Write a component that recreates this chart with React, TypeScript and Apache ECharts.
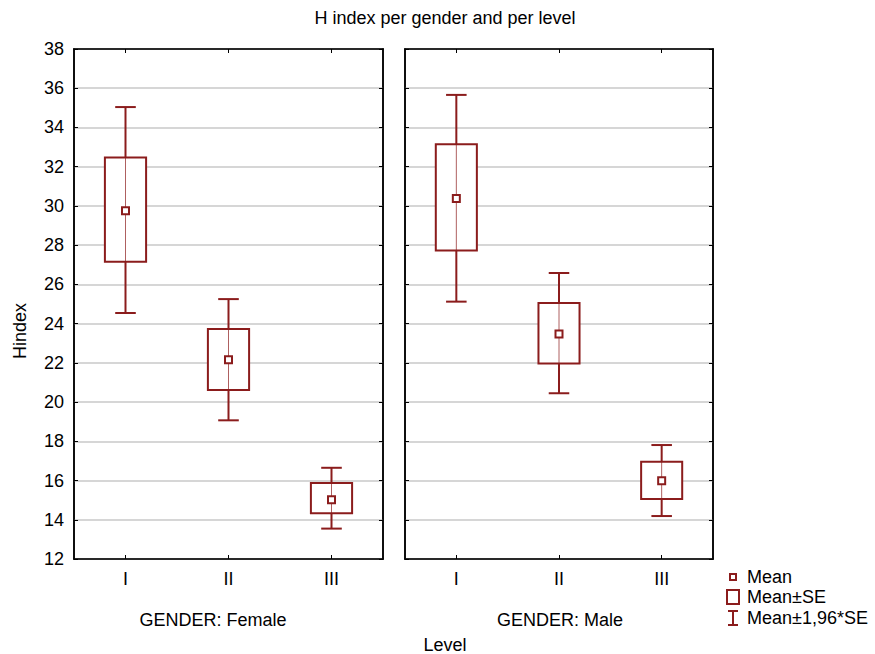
import React, { useEffect, useRef } from "react";
import * as echarts from "echarts";

const categories = ["I", "II", "III"];
const yTicksMin = 12;
const yTicksMax = 38;
const yTickStep = 2;

const femaleMean = [29.75, 22.16, 15.02];
const femaleSeLow = [27.15, 20.61, 14.33];
const femaleSeHigh = [32.47, 23.72, 15.87];
const femaleCiLow = [24.54, 19.07, 13.55];
const femaleCiHigh = [35.04, 25.25, 16.65];

const maleMean = [30.38, 23.47, 15.99];
const maleSeLow = [27.73, 21.97, 15.06];
const maleSeHigh = [33.14, 25.05, 16.96];
const maleCiLow = [25.12, 20.45, 14.19];
const maleCiHigh = [35.66, 26.58, 17.81];

const titleText = "H index per gender and per level";
const yAxisTitle = "Hindex";
const xAxisTitle = "Level";
const panelTitles = ["GENDER: Female", "GENDER: Male"];
const legendLabels = ["Mean", "Mean±SE", "Mean±1,96*SE"];

const RED = "#8b1c1c";
const FONT = "Liberation Sans, Arial, sans-serif";
const FS = 18;

function buildRows(mean: number[], seL: number[], seH: number[], ciL: number[], ciH: number[]) {
  return categories.map((_, i) => [i, mean[i], seL[i], seH[i], ciL[i], ciH[i]]);
}

function renderItem(params: any, api: any) {
  const idx = api.value(0);
  const pMean = api.coord([idx, api.value(1)]);
  const pSeL = api.coord([idx, api.value(2)]);
  const pSeH = api.coord([idx, api.value(3)]);
  const pCiL = api.coord([idx, api.value(4)]);
  const pCiH = api.coord([idx, api.value(5)]);
  const band = api.size([1, 0])[0];
  const boxW = band * 0.4;
  const capW = band * 0.2;
  const cx = pMean[0];
  const ms = 7;
  return {
    type: "group",
    children: [
      {
        type: "rect",
        shape: { x: cx - boxW / 2, y: pSeH[1], width: boxW, height: pSeL[1] - pSeH[1] },
        style: { fill: "#ffffff", stroke: RED, lineWidth: 2 },
      },
      {
        type: "line",
        shape: { x1: cx, y1: pSeH[1], x2: cx, y2: pSeL[1] },
        style: { stroke: RED, lineWidth: 1, opacity: 0.7 },
      },
      {
        type: "line",
        shape: { x1: cx, y1: pCiH[1], x2: cx, y2: pSeH[1] },
        style: { stroke: RED, lineWidth: 2 },
      },
      {
        type: "line",
        shape: { x1: cx, y1: pSeL[1], x2: cx, y2: pCiL[1] },
        style: { stroke: RED, lineWidth: 2 },
      },
      {
        type: "line",
        shape: { x1: cx - capW / 2, y1: pCiH[1], x2: cx + capW / 2, y2: pCiH[1] },
        style: { stroke: RED, lineWidth: 2 },
      },
      {
        type: "line",
        shape: { x1: cx - capW / 2, y1: pCiL[1], x2: cx + capW / 2, y2: pCiL[1] },
        style: { stroke: RED, lineWidth: 2 },
      },
      {
        type: "rect",
        shape: { x: cx - ms / 2, y: pMean[1] - ms / 2, width: ms, height: ms },
        style: { fill: "#ffffff", stroke: RED, lineWidth: 2 },
      },
    ],
  };
}

export default function App() {
  const ref = useRef<HTMLDivElement>(null);

  useEffect(() => {
    document.body.style.margin = "0";
    if (!ref.current) return;
    const chart = echarts.init(ref.current, null, { renderer: "svg" });

    const grids = [
      { left: 74, right: 875 - 383, top: 49, bottom: 654 - 559, show: true, borderColor: "#000", borderWidth: 1.5 },
      { left: 405, right: 875 - 713, top: 49, bottom: 654 - 559, show: true, borderColor: "#000", borderWidth: 1.5 },
    ];

    const xAxes: any[] = [];
    const yAxes: any[] = [];
    [0, 1].forEach((g) => {
      xAxes.push({
        type: "category",
        gridIndex: g,
        position: "bottom",
        data: categories,
        boundaryGap: true,
        axisLine: { show: true, lineStyle: { color: "#000", width: 1.5 } },
        axisTick: { show: true, inside: true, alignWithLabel: true, length: 4, lineStyle: { color: "#000" } },
        axisLabel: { show: true, color: "#000", fontSize: FS, fontFamily: FONT, margin: 11 },
        splitLine: { show: false },
      });
      xAxes.push({
        type: "category",
        gridIndex: g,
        position: "top",
        data: categories,
        boundaryGap: true,
        axisLine: { show: true, lineStyle: { color: "#000", width: 1.5 } },
        axisTick: { show: true, inside: true, alignWithLabel: true, length: 4, lineStyle: { color: "#000" } },
        axisLabel: { show: false },
        splitLine: { show: false },
      });
      yAxes.push({
        type: "value",
        gridIndex: g,
        position: "left",
        min: yTicksMin,
        max: yTicksMax,
        interval: yTickStep,
        axisLine: { show: true, lineStyle: { color: "#000", width: 1.5 } },
        axisTick: { show: true, inside: true, length: 4, lineStyle: { color: "#000" } },
        axisLabel: { show: g === 0, color: "#000", fontSize: FS, fontFamily: FONT, margin: 10 },
        splitLine: { show: true, lineStyle: { color: "#c8c8c8", width: 1.5 } },
      });
      yAxes.push({
        type: "value",
        gridIndex: g,
        position: "right",
        min: yTicksMin,
        max: yTicksMax,
        interval: yTickStep,
        axisLine: { show: true, lineStyle: { color: "#000", width: 1.5 } },
        axisTick: { show: true, inside: true, length: 4, lineStyle: { color: "#000" } },
        axisLabel: { show: false },
        splitLine: { show: false },
      });
    });

    const legendX = 733;
    const legendY = [577, 597, 618];

    chart.setOption({
      animation: false,
      backgroundColor: "#ffffff",
      textStyle: { fontFamily: FONT },
      grid: grids,
      xAxis: xAxes,
      yAxis: yAxes,
      series: [
        {
          type: "custom",
          xAxisIndex: 0,
          yAxisIndex: 0,
          renderItem,
          encode: { x: 0, y: [1, 2, 3, 4, 5] },
          data: buildRows(femaleMean, femaleSeLow, femaleSeHigh, femaleCiLow, femaleCiHigh),
          z: 5,
        },
        {
          type: "custom",
          xAxisIndex: 2,
          yAxisIndex: 2,
          renderItem,
          encode: { x: 0, y: [1, 2, 3, 4, 5] },
          data: buildRows(maleMean, maleSeLow, maleSeHigh, maleCiLow, maleCiHigh),
          z: 5,
        },
      ],
      graphic: [
        {
          type: "text",
          x: 445,
          y: 18,
          style: { text: titleText, fill: "#000", font: `${FS}px ${FONT}`, align: "center", verticalAlign: "middle" },
        },
        {
          type: "text",
          x: 20,
          y: 331,
          rotation: Math.PI / 2,
          style: { text: yAxisTitle, fill: "#000", font: `${FS}px ${FONT}`, align: "center", verticalAlign: "middle" },
        },
        {
          type: "text",
          x: 213,
          y: 620,
          style: { text: panelTitles[0], fill: "#000", font: `${FS}px ${FONT}`, align: "center", verticalAlign: "middle" },
        },
        {
          type: "text",
          x: 560,
          y: 620,
          style: { text: panelTitles[1], fill: "#000", font: `${FS}px ${FONT}`, align: "center", verticalAlign: "middle" },
        },
        {
          type: "text",
          x: 445,
          y: 645,
          style: { text: xAxisTitle, fill: "#000", font: `${FS}px ${FONT}`, align: "center", verticalAlign: "middle" },
        },
        {
          type: "rect",
          shape: { x: legendX - 3, y: legendY[0] - 3, width: 6, height: 6 },
          style: { fill: "#fff", stroke: RED, lineWidth: 2 },
        },
        {
          type: "rect",
          shape: { x: legendX - 6, y: legendY[1] - 7, width: 12, height: 14 },
          style: { fill: "#fff", stroke: RED, lineWidth: 2 },
        },
        {
          type: "line",
          shape: { x1: legendX, y1: legendY[2] - 7, x2: legendX, y2: legendY[2] + 7 },
          style: { stroke: RED, lineWidth: 2 },
        },
        {
          type: "line",
          shape: { x1: legendX - 5, y1: legendY[2] - 7, x2: legendX + 5, y2: legendY[2] - 7 },
          style: { stroke: RED, lineWidth: 2 },
        },
        {
          type: "line",
          shape: { x1: legendX - 5, y1: legendY[2] + 7, x2: legendX + 5, y2: legendY[2] + 7 },
          style: { stroke: RED, lineWidth: 2 },
        },
        ...legendLabels.map((t, i) => ({
          type: "text",
          x: 747,
          y: legendY[i],
          style: { text: t, fill: "#000", font: `${FS}px ${FONT}`, align: "left", verticalAlign: "middle" },
        })),
      ],
    });

    return () => {
      chart.dispose();
    };
  }, []);

  return <div ref={ref} style={{ width: 875, height: 654 }} />;
}
